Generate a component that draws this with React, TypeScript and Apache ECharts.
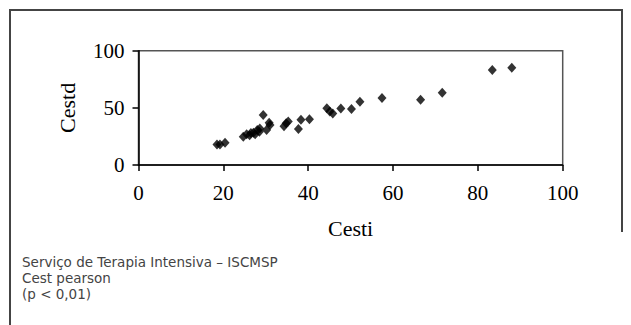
import React, { useEffect, useRef } from "react";
import * as echarts from "echarts";

const cestiValues = [18.5, 19.2, 20.4, 24.7, 25.5, 26.2, 26.5, 27.1, 27.5, 28.0, 28.6, 28.5, 29.4, 30.2, 30.8, 31.0, 34.3, 34.8, 35.3, 37.7, 38.3, 40.3, 44.4, 45.1, 45.8, 47.7, 50.2, 52.2, 57.4, 66.5, 71.6, 83.4, 88.0];
const cestdValues = [18.0, 18.0, 19.5, 24.8, 26.8, 26.0, 28.0, 28.3, 27.0, 30.6, 32.0, 29.0, 43.7, 30.6, 37.0, 35.0, 34.0, 36.5, 38.0, 31.5, 39.5, 40.0, 49.6, 46.7, 45.0, 49.5, 49.0, 55.4, 58.6, 57.0, 63.3, 83.1, 85.1];
const xAxisTitle = "Cesti";
const yAxisTitle = "Cestd";
const footerLines = ["Serviço de Terapia Intensiva – ISCMSP", "Cest pearson", "(p < 0,01)"];

export default function App() {
  const ref = useRef<HTMLDivElement>(null);
  useEffect(() => {
    if (!ref.current) return;
    const chart = echarts.init(ref.current, null, { renderer: "svg" });
    const points = cestiValues.map((x, i) => [x, cestdValues[i]]);
    const serif = "'Liberation Serif', 'Times New Roman', serif";
    chart.setOption({
      animation: false,
      backgroundColor: "#ffffff",
      grid: {
        left: 138.5,
        top: 50.7,
        right: 631 - 562.7,
        bottom: 325 - 165,
        show: true,
        borderColor: "#555555",
        borderWidth: 1.5,
        containLabel: false,
      },
      xAxis: {
        type: "value",
        min: 0,
        max: 100,
        interval: 20,
        name: xAxisTitle,
        nameLocation: "middle",
        nameGap: 52,
        nameTextStyle: { fontFamily: serif, fontSize: 22, color: "#000" },
        axisLine: { show: true, lineStyle: { color: "#000", width: 1.5 } },
        axisTick: { show: true, inside: false, length: 6, lineStyle: { color: "#000", width: 1.5 } },
        axisLabel: { fontFamily: serif, fontSize: 21, color: "#000", margin: 17 },
        splitLine: { show: false },
      },
      yAxis: {
        type: "value",
        min: 0,
        max: 100,
        interval: 50,
        name: yAxisTitle,
        nameLocation: "middle",
        nameGap: 60,
        nameRotate: 90,
        nameTextStyle: { fontFamily: serif, fontSize: 22, color: "#000" },
        axisLine: { show: true, lineStyle: { color: "#000", width: 1.5 } },
        axisTick: { show: true, inside: false, length: 6, lineStyle: { color: "#000", width: 1.5 } },
        axisLabel: { fontFamily: serif, fontSize: 21, color: "#000", margin: 14 },
        splitLine: { show: false },
      },
      series: [
        {
          type: "scatter",
          data: points,
          symbol: "diamond",
          symbolSize: [9, 10],
          itemStyle: { color: "#000" },
        },
      ],
      graphic: [
        {
          type: "polyline",
          shape: { points: [[10, 325], [10, 10], [622, 10], [622, 232]] },
          style: { stroke: "#444", lineWidth: 2, fill: null },
          silent: true,
        },
        ...footerLines.map((t, i) => ({
          type: "text",
          x: 22,
          y: 262 + i * 16,
          style: {
            text: t,
            fontFamily: "'DejaVu Sans', sans-serif",
            fontSize: 13.5,
            fill: "#444",
            verticalAlign: "middle",
            align: "left",
          },
        })),
      ],
    });
    return () => chart.dispose();
  }, []);
  return (
    <div
      ref={ref}
      style={{ position: "fixed", left: 0, top: 0, width: 631, height: 325 }}
    />
  );
}
